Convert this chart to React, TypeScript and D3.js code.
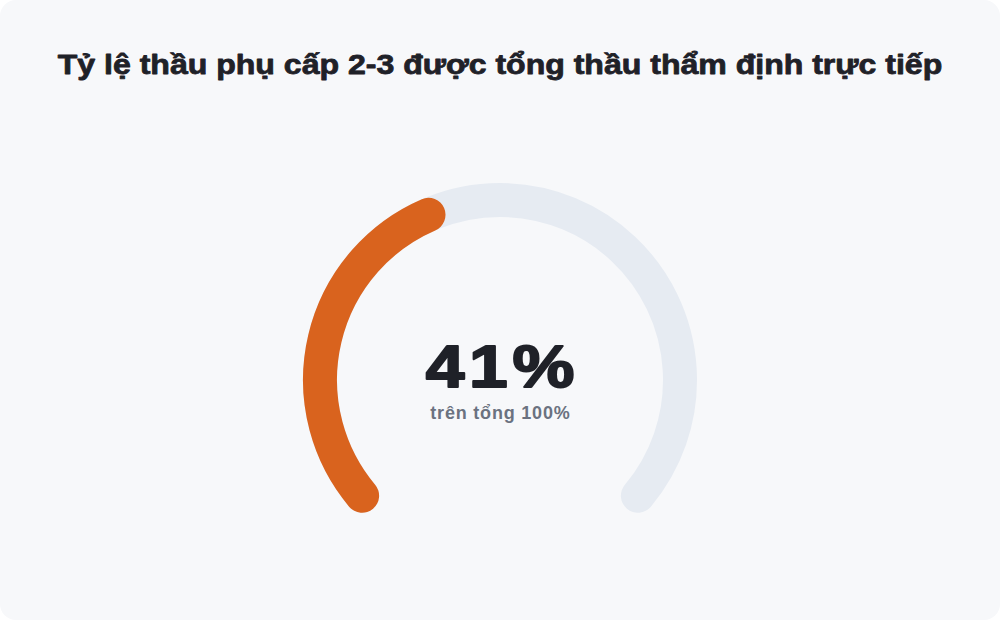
import React from "react";
import * as d3 from "d3";

const title = "Tỷ lệ thầu phụ cấp 2-3 được tổng thầu thẩm định trực tiếp";
const value = [41];
const total = [100];
const subtitle = "trên tổng 100%";

const W = 1000;
const H = 620;
const FONT = "'Liberation Sans', Arial, sans-serif";

export default function App() {
  const cx = 500;
  const cy = 380;
  const r = 180;
  const thickness = 34;
  const startDeg = -130;
  const endDeg = 130;
  const scale = d3
    .scaleLinear()
    .domain([0, total[0]])
    .range([startDeg, endDeg].map((d) => (d * Math.PI) / 180));

  const arcPath = (a0: number, a1: number) => {
    const p = d3.path();
    p.arc(0, 0, r, a0 - Math.PI / 2, a1 - Math.PI / 2, false);
    return p.toString();
  };

  const trackD = arcPath(scale(0), scale(total[0]));
  const valueD = arcPath(scale(0), scale(value[0]));

  return (
    <div style={{ position: "fixed", left: 0, top: 0, width: W, height: H, background: "#fff" }}>
      <svg width={W} height={H} style={{ display: "block" }}>
        <rect x={0} y={0} width={W} height={H} rx={16} ry={16} fill="#F7F8FA" />
        <g transform={`translate(${W / 2},74) scale(1.145,1)`}>
          <text
            x={0}
            y={0}
            textAnchor="middle"
            fontFamily={FONT}
            fontWeight={700}
            fontSize={28}
            fill="#1F2128"
            stroke="#1F2128"
            strokeWidth={0.8}
            strokeLinejoin="round"
          >
            {title}
          </text>
        </g>
        <g transform={`translate(${cx},${cy})`}>
          <path d={trackD} fill="none" stroke="#E6EBF2" strokeWidth={thickness} strokeLinecap="round" />
          <path d={valueD} fill="none" stroke="#D9631E" strokeWidth={thickness} strokeLinecap="round" />
          <g transform="translate(0,7) scale(1.16,1)">
            <text
              x={2}
              y={0}
              textAnchor="middle"
              fontFamily={FONT}
              fontWeight={700}
              fontSize={60}
              letterSpacing={4}
              fill="#1F2128"
              stroke="#1F2128"
              strokeWidth={2}
              strokeLinejoin="round"
            >
              {`${value[0]}%`}
            </text>
          </g>
          <text
            x={0.4}
            y={39}
            textAnchor="middle"
            fontFamily={FONT}
            fontWeight={700}
            fontSize={18}
            letterSpacing={0.8}
            fill="#6B7280"
          >
            {subtitle}
          </text>
        </g>
      </svg>
    </div>
  );
}
